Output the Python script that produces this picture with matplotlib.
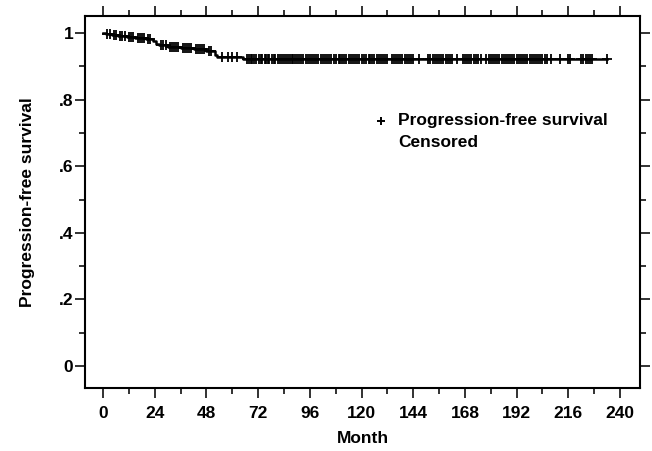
import numpy as np
import matplotlib
matplotlib.use("Agg")
import matplotlib.pyplot as plt
from matplotlib.ticker import MultipleLocator, FuncFormatter

plt.rcParams["font.family"] = ["Liberation Sans", "DejaVu Sans"]
plt.rcParams["font.weight"] = "bold"

# Kaplan-Meier steps (month, survival after the event)
event_t = [0, 1.5, 4, 7, 11, 15, 20, 23, 24.5, 26, 30, 36, 42, 48, 52, 53, 65]
event_s = [1.0, 0.997, 0.994, 0.991, 0.988, 0.985, 0.982, 0.975, 0.968, 0.963,
           0.959, 0.955, 0.951, 0.947, 0.935, 0.928, 0.921]

# censored observations (months)
censor_t = [2, 3, 5, 6, 8, 9, 10, 12, 13, 14, 16, 17, 18, 19, 21, 22, 27, 28, 29,
            31, 32, 33, 34, 35, 37, 38, 39, 40, 41, 43, 44, 45, 46, 47, 49, 50, 55,
            58, 60, 62, 67, 67.8, 68.5, 69.3, 70, 71, 72.5, 73.3, 74, 75, 75.8,
            76.5, 77, 78.5, 79.2, 80, 81, 82, 83, 84, 85, 86, 86.7, 87.5, 88, 89,
            90, 91, 92, 93, 94, 95, 96, 97, 98, 99, 100, 101, 102, 103, 104, 105,
            106, 107, 108, 109.5, 110, 111, 112, 113, 114, 115, 116, 117, 118, 119,
            120, 121, 122, 123.3, 124, 125, 126, 127, 128, 129, 130, 131, 132,
            134, 135, 136, 137, 138, 139, 140, 141, 142, 143, 144, 146.5, 151,
            152, 153, 154, 155, 156, 157, 158, 159, 160, 161, 162, 164.5, 167, 168,
            169, 170, 171, 172, 173, 174, 175.5, 178, 179, 180, 181, 182, 183,
            184, 185, 186, 187, 188, 189, 190, 191, 192, 193, 194, 195, 196, 197,
            198, 199, 200, 201, 202, 203, 204, 205, 206, 208, 212, 216, 217,
            222, 223, 224, 225, 226, 227, 234]
end_t = 234

fig = plt.figure(figsize=(6.52, 4.51), dpi=100)
ax = fig.add_axes([0.1304, 0.1397, 0.8512, 0.8248])

st = event_t + [end_t]
ss = event_s + [event_s[-1]]
ax.step(st, ss, where="post", color="black", lw=1.8)

idx = np.searchsorted(event_t, censor_t, side="right") - 1
cs = np.array(event_s)[idx]
ax.plot(censor_t, cs, ls="none", marker="+", color="black", ms=7, mew=1.3)

ax.set_xlim(-8.4, 249.3)
ax.set_ylim(-0.066, 1.051)
ax.xaxis.set_major_locator(MultipleLocator(24))
ax.xaxis.set_minor_locator(MultipleLocator(12))
ax.yaxis.set_major_locator(MultipleLocator(0.2))
ax.yaxis.set_minor_locator(MultipleLocator(0.1))

def yfmt(v, pos):
    if abs(v) < 1e-9:
        return "0"
    if abs(v - 1) < 1e-9:
        return "1"
    return ("%.1f" % v).lstrip("0")

ax.yaxis.set_major_formatter(FuncFormatter(yfmt))
ax.tick_params(which="both", direction="out", top=True, right=True,
               width=1.3, labelsize=12.5, color="#222222")
ax.tick_params(which="major", length=7)
ax.tick_params(which="minor", length=4)
ax.tick_params(axis="x", which="major", pad=6)
ax.tick_params(axis="y", which="major", pad=1.5)
for s in ax.spines.values():
    s.set_linewidth(1.5)

ax.set_xlabel("Month", fontsize=12.5, fontweight="bold", labelpad=7)
ax.set_ylabel("Progression-free survival", fontsize=12.5, fontweight="bold", labelpad=17)

ax.plot([0.533], [0.718], transform=ax.transAxes, marker="+", color="black",
        ms=6, mew=1.4, ls="none", clip_on=False)
ax.text(0.564, 0.718, "Progression-free survival", transform=ax.transAxes,
        fontsize=12.5, fontweight="bold", va="center", ha="left")
ax.text(0.564, 0.659, "Censored", transform=ax.transAxes,
        fontsize=12.5, fontweight="bold", va="center", ha="left")
fig.savefig("out.png", dpi=100)
